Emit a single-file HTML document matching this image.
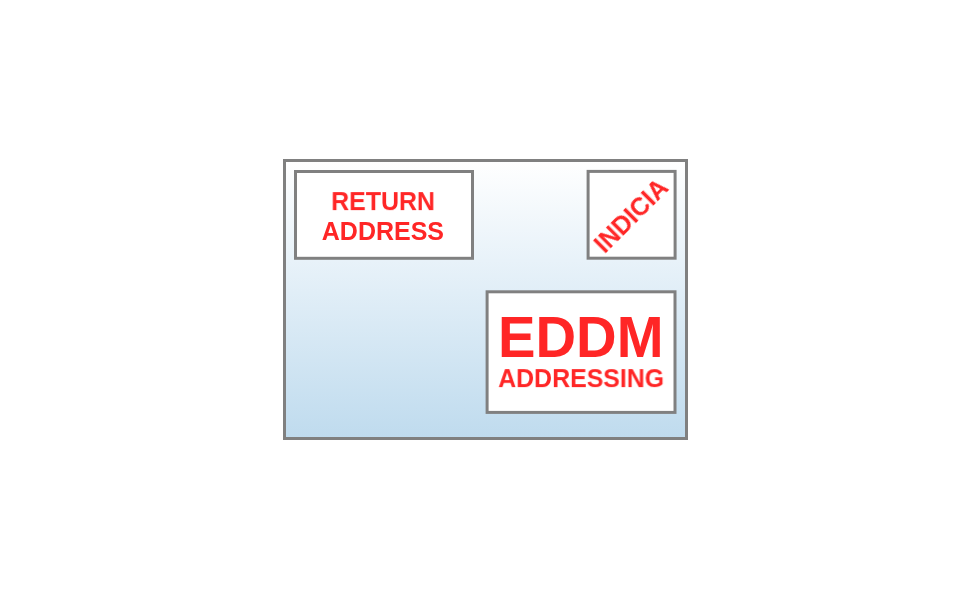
<!DOCTYPE html>
<html lang="en">
<head>
<meta charset="utf-8">
<title>EDDM Mailer Layout</title>
<style>
  html, body { margin: 0; padding: 0; background: #ffffff; }
  body { width: 970px; height: 600px; position: relative; overflow: hidden;
         font-family: "Liberation Sans", sans-serif; }
  #art { position: absolute; left: 0; top: 0; width: 970px; height: 600px; display: block; }
  /* each label is a zero-height line anchored at (0,0); the transform places the
     left end of its baseline and stretches the caps to the reference cap height */
  .t { position: absolute; left: 0; top: 0; margin: 0; padding: 0;
       color: #ff2626; font-weight: bold; white-space: nowrap;
       line-height: 0; height: 0; display: block;
       transform-origin: 0 0; will-change: transform; }
  #ret1 { font-size: 25px; transform: translate(331.15px, 210px) scale(0.997, 1.04) translate(0, -9px); }
  #ret2 { font-size: 25px; transform: translate(321.8px, 240px) scale(1, 1.04) translate(0, -9px); }
  #ind  { font-size: 25px; transform: translate(630.5px, 215.1px) rotate(-45deg) scale(0.99, 1.04) translate(-46.5px, 0px); }
  #eddm { font-size: 56px; transform: translate(497.95px, 357px) scale(1.004, 1.04) translate(0, -19px); }
  #addr { font-size: 25px; transform: translate(498.2px, 387px) scale(0.995, 1.04) translate(0, -9px); }
</style>
</head>
<body>
<svg id="art" width="970" height="600" viewBox="0 0 970 600">
  <defs>
    <linearGradient id="g" x1="0" y1="0" x2="0" y2="1">
      <stop offset="0" stop-color="#ffffff"/>
      <stop offset="1" stop-color="#bfdbee"/>
    </linearGradient>
  </defs>
  <rect x="284.5" y="160.5" width="402" height="278" fill="url(#g)" stroke="#808080" stroke-width="3"/>
  <rect x="295.5" y="171.5" width="177" height="86.8" fill="#ffffff" stroke="#808080" stroke-width="3"/>
  <rect x="588.1" y="171.4" width="87" height="86.8" fill="#ffffff" stroke="#808080" stroke-width="3"/>
  <rect x="487.1" y="291.8" width="187.9" height="120.6" fill="#ffffff" stroke="#808080" stroke-width="3"/>
</svg>
<div class="t" id="ret1">RETURN</div>
<div class="t" id="ret2">ADDRESS</div>
<div class="t" id="ind">INDICIA</div>
<div class="t" id="eddm">EDDM</div>
<div class="t" id="addr">ADDRESSING</div>
</body>
</html>
